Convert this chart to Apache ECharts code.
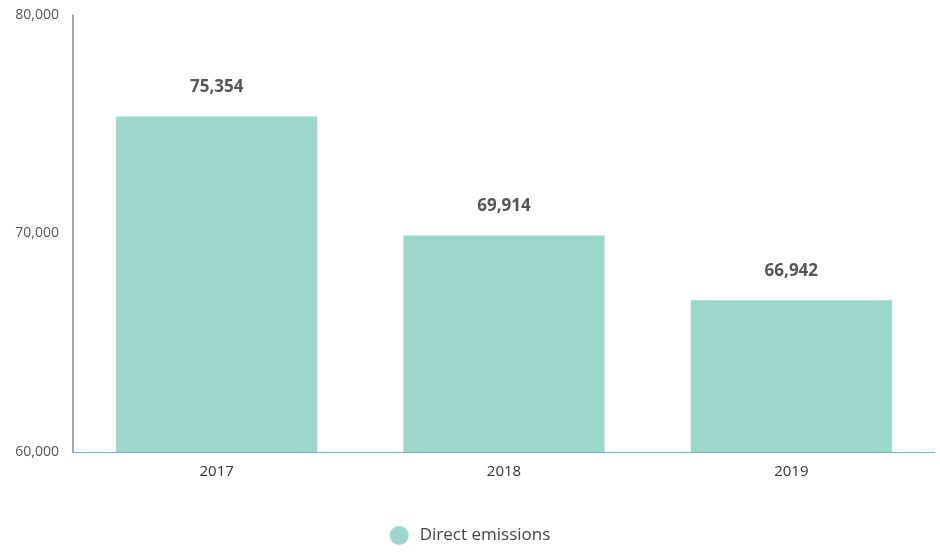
<!DOCTYPE html>
<html><head><meta charset="utf-8">
<script src="https://cdn.jsdelivr.net/npm/echarts@6/dist/echarts.min.js"></script>
<style>html,body{margin:0;padding:0;background:#fff}#c{width:940px;height:552px}</style>
</head><body><div id="c"></div>
<script>
const categories = ['2017', '2018', '2019'];
const directEmissions = [75354, 69914, 66942];
const seriesName = 'Direct emissions';

const chart = echarts.init(document.getElementById('c'));
chart.setOption({
  animation: false,
  grid: { left: 73, right: 5, top: 15, bottom: 100 },
  legend: {
    bottom: 2, left: 'center',
    icon: 'circle', itemWidth: 19, itemHeight: 19, itemGap: 10,
    textStyle: { fontFamily: 'Open Sans', fontSize: 17, color: '#444', padding: [0, 0, 0, 6] },
    data: [seriesName]
  },
  xAxis: {
    type: 'category', data: categories,
    axisLine: { lineStyle: { color: '#5bc0e6', width: 1 } },
    axisTick: { show: false },
    axisLabel: { fontFamily: 'Open Sans', fontSize: 15, color: '#333', margin: 12 }
  },
  yAxis: {
    type: 'value', min: 60000, max: 80000, interval: 10000,
    axisLine: { show: true, lineStyle: { color: '#888', width: 1.5 } },
    axisTick: { show: false },
    splitLine: { show: false },
    axisLabel: {
      fontFamily: 'Open Sans', fontSize: 14, color: '#555', margin: 14,
      formatter: v => v.toLocaleString('en-US')
    }
  },
  series: [{
    name: seriesName, type: 'bar', data: directEmissions, barWidth: '70%',
    itemStyle: { color: '#9dd6ca' },
    label: {
      show: true, position: 'top', distance: 21,
      fontFamily: 'Open Sans', fontSize: 17, fontWeight: 'bold', color: '#555',
      formatter: p => p.value.toLocaleString('en-US')
    }
  }]
});
</script></body></html>
